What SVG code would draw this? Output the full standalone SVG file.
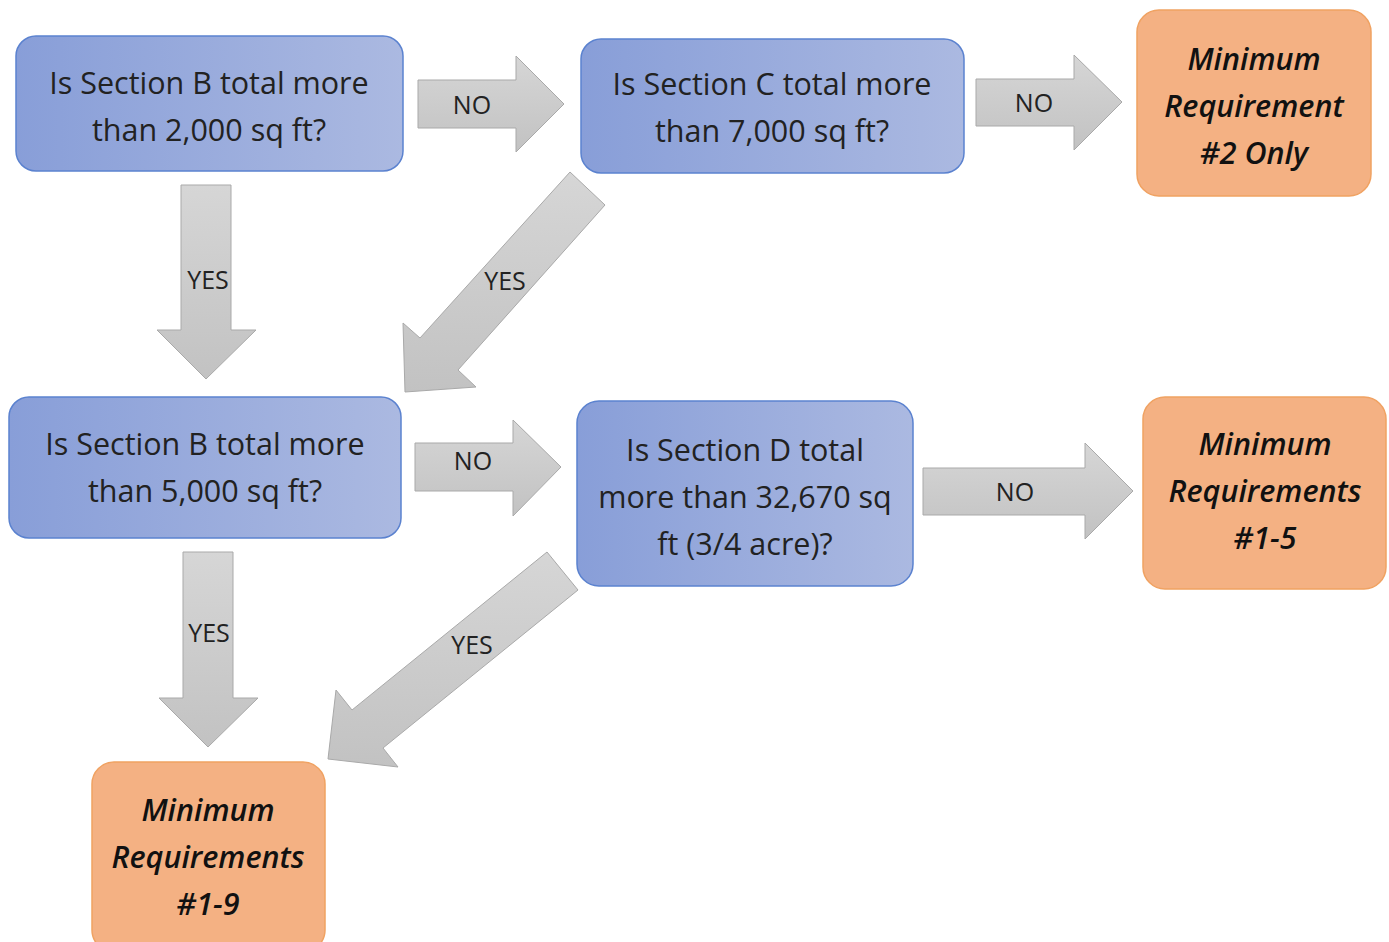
<svg xmlns="http://www.w3.org/2000/svg" width="1389" height="942" viewBox="0 0 1389 942">
<defs>
<linearGradient id="gb" x1="0" y1="0" x2="1" y2="0">
<stop offset="0" stop-color="#889ed8"/>
<stop offset="1" stop-color="#abb9e1"/>
</linearGradient>
<linearGradient id="ga" x1="0" y1="0" x2="0" y2="1">
<stop offset="0" stop-color="#d6d6d6"/>
<stop offset="1" stop-color="#c2c2c2"/>
</linearGradient>
<style>
.blue{fill:url(#gb);stroke:#5b82cf;stroke-width:1.5}
.org{fill:#f4b183;stroke:#f0a262;stroke-width:1.5}
.arr{fill:url(#ga);stroke:#a9a9a9;stroke-width:1}
.t{font-family:"Open Sans","Noto Sans","DejaVu Sans",sans-serif;font-size:30.5px;fill:#222;text-anchor:middle}
.o{font-family:"Open Sans","Noto Sans","DejaVu Sans",sans-serif;font-size:30.5px;font-style:italic;font-weight:600;fill:#111;text-anchor:middle}
.l{font-family:"Open Sans","Noto Sans","DejaVu Sans",sans-serif;font-size:25px;fill:#222;text-anchor:middle}
</style>
</defs>
<rect width="1389" height="942" fill="#fff"/>
<g id="connectors">
<polygon class="arr" points="418,80 516,80 516,56 564,104 516,152 516,128 418,128"/>
<polygon class="arr" points="976,79 1074,79 1074,55 1122,102 1074,150 1074,126 976,126"/>
<polygon class="arr" points="415,443 513,443 513,420 561,467 513,516 513,491 415,491"/>
<polygon class="arr" points="923,468 1085,468 1085,443 1133,491 1085,539 1085,515 923,515"/>
<polygon class="arr" points="181,185 231,185 231,330 256,330 206,379 157,330 181,330"/>
<polygon class="arr" points="183,552 233,552 233,698 258,698 208,747 159,698 183,698"/>
<polygon class="arr" points="570,172 605,205 458,370 476,387 405,392 403,323 420,338"/>
<polygon class="arr" points="547,552 578,590 383,748 398,767 328,759 336,690 352,710"/>
<text class="l" x="472" y="114">NO</text>
<text class="l" x="1034" y="112">NO</text>
<text class="l" x="473" y="470">NO</text>
<text class="l" x="1015" y="501">NO</text>
<text class="l" x="208" y="289">YES</text>
<text class="l" x="209" y="642">YES</text>
<text class="l" x="505" y="290">YES</text>
<text class="l" x="472" y="654">YES</text>
</g>
<g id="qB2000">
<rect class="blue" x="16" y="36" width="387" height="135" rx="20"/>
<text class="t" x="209" y="94">Is Section B total more</text>
<text class="t" x="209" y="141">than 2,000 sq ft?</text>
</g>
<g id="qC7000">
<rect class="blue" x="581" y="39" width="383" height="134" rx="20"/>
<text class="t" x="772" y="95">Is Section C total more</text>
<text class="t" x="772" y="142">than 7,000 sq ft?</text>
</g>
<g id="req2">
<rect class="org" x="1137" y="10" width="234" height="186" rx="22"/>
<text class="o" x="1254" y="70">Minimum</text>
<text class="o" x="1254" y="117">Requirement</text>
<text class="o" x="1254" y="164">#2 Only</text>
</g>
<g id="qB5000">
<rect class="blue" x="9" y="397" width="392" height="141" rx="20"/>
<text class="t" x="205" y="455">Is Section B total more</text>
<text class="t" x="205" y="502">than 5,000 sq ft?</text>
</g>
<g id="qD">
<rect class="blue" x="577" y="401" width="336" height="185" rx="22"/>
<text class="t" x="745" y="461">Is Section D total</text>
<text class="t" x="745" y="508">more than 32,670 sq</text>
<text class="t" x="745" y="555">ft (3/4 acre)?</text>
</g>
<g id="req15">
<rect class="org" x="1143" y="397" width="243" height="192" rx="22"/>
<text class="o" x="1265" y="455">Minimum</text>
<text class="o" x="1265" y="502">Requirements</text>
<text class="o" x="1265" y="549">#1-5</text>
</g>
<g id="req19">
<rect class="org" x="92" y="762" width="233" height="190" rx="22"/>
<text class="o" x="208" y="821">Minimum</text>
<text class="o" x="208" y="868">Requirements</text>
<text class="o" x="208" y="915">#1-9</text>
</g>
</svg>
